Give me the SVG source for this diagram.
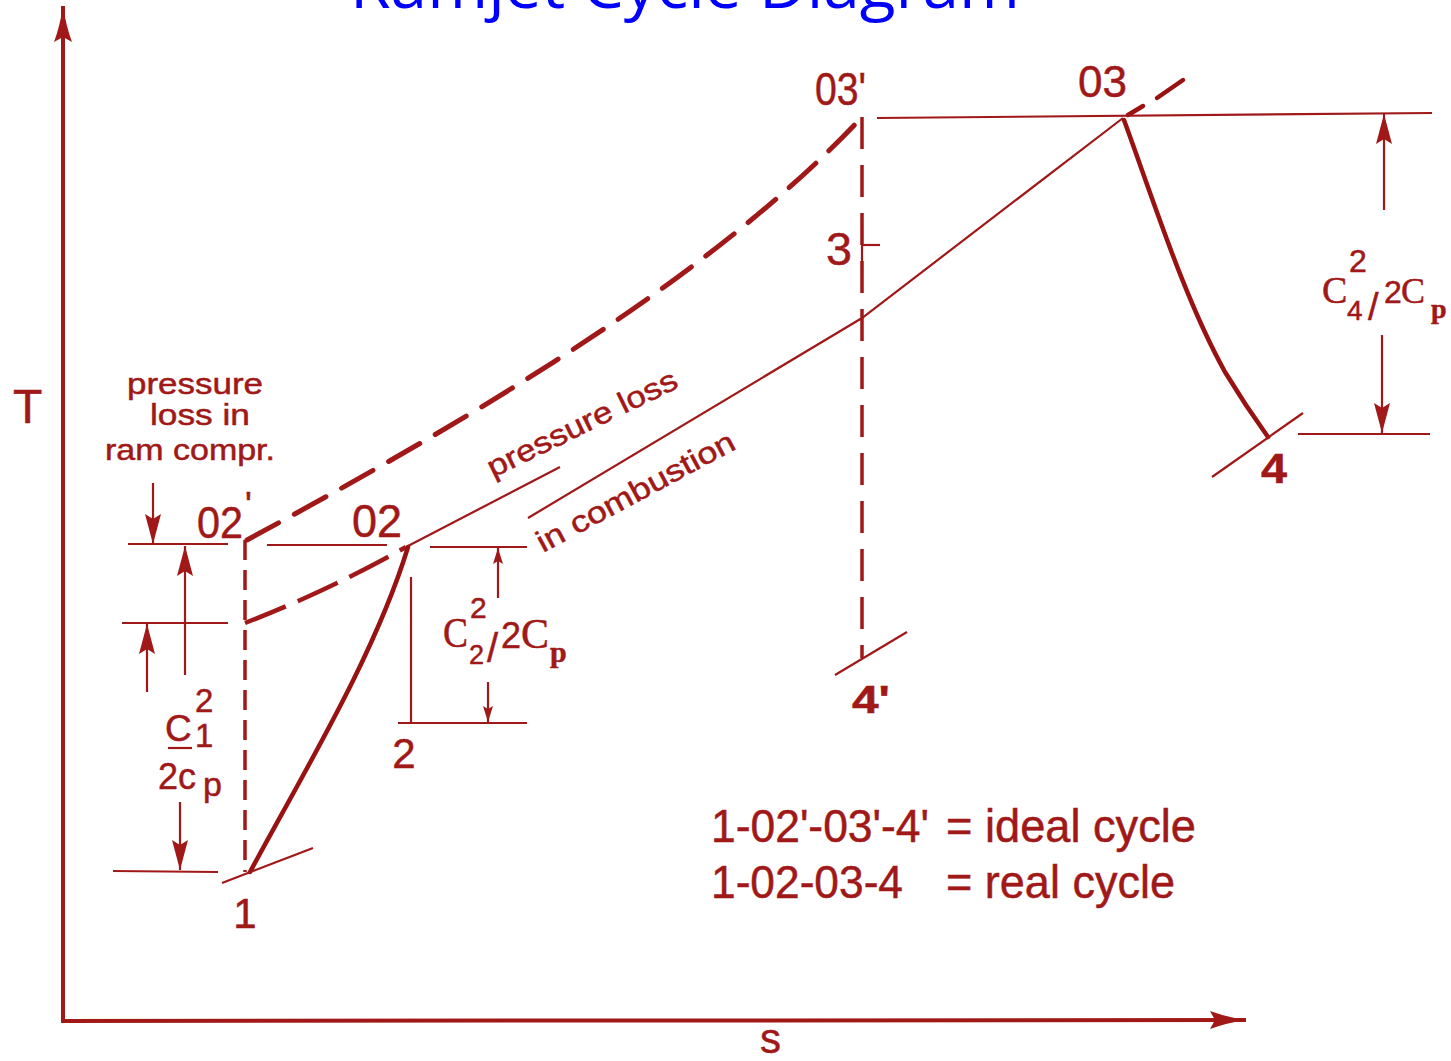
<svg xmlns="http://www.w3.org/2000/svg" width="1451" height="1061" viewBox="0 0 1451 1061">
<defs>
<style>
.ln{stroke:#a01818;fill:none;stroke-width:2.2}
.ax{stroke:#a01818;fill:none;stroke-width:4}
.thick{stroke:#981212;fill:none;stroke-width:4.5;stroke-linecap:round}
.dash{stroke:#a01818;fill:none;stroke-width:5;stroke-dasharray:36 18;stroke-linecap:round}
.dash2{stroke:#a01818;fill:none;stroke-width:4.5;stroke-dasharray:44 13}
.vd{stroke:#a01818;fill:none;stroke-width:3.5;stroke-dasharray:20 10}
.vd2{stroke:#a01818;fill:none;stroke-width:3.5;stroke-dasharray:32 16}
.t{font-family:"Liberation Sans",Arial,sans-serif;fill:#a01818;stroke:#a01818;stroke-width:0.5}
.b{font-weight:bold}
.s{font-family:"Liberation Serif","Times New Roman",serif;fill:#a01818;stroke:#a01818;stroke-width:0.5}
.title{font-family:"Open Sans","Noto Sans",sans-serif;fill:#0000ff}
</style>
<marker id="ah" viewBox="0 0 36 18" refX="36" refY="9" markerWidth="36" markerHeight="18" orient="auto" markerUnits="userSpaceOnUse"><path d="M0,0 Q16,6 36,9 Q16,12 0,18 L5,9 z" fill="#a01818"/></marker>
<marker id="am" viewBox="0 0 30 16" refX="30" refY="8" markerWidth="30" markerHeight="16" orient="auto" markerUnits="userSpaceOnUse"><path d="M0,0 L30,8 L0,16 L5,8 z" fill="#a01818"/></marker>
<marker id="as" viewBox="0 0 16 10" refX="16" refY="5" markerWidth="16" markerHeight="10" orient="auto" markerUnits="userSpaceOnUse"><path d="M0,0 L16,5 L0,10 L3,5 z" fill="#a01818"/></marker>
</defs>
<rect width="1451" height="1061" fill="#ffffff"/>
<text class="title" x="350" y="8" font-size="64" textLength="670" lengthAdjust="spacingAndGlyphs">Ramjet Cycle Diagram</text>

<g id="axes">
<line class="ax" x1="63" y1="1023" x2="63" y2="6" marker-end="url(#ah)"/>
<line class="ax" x1="61" y1="1021" x2="1246" y2="1020" marker-end="url(#ah)"/>
<text class="t" x="13" y="423" font-size="48">T</text>
<text class="t" x="760" y="1053" font-size="42">s</text>
</g>

<g id="connectors">
<line class="vd" x1="245" y1="540" x2="245" y2="872"/>
<line class="vd2" x1="862" y1="117" x2="862" y2="658"/>
<path class="dash" d="M247,540 C450,430 705,285 862,117"/>
<path class="dash2" d="M245,623 Q330,590 406,547"/>
<line class="thick" x1="1128" y1="115" x2="1143" y2="106"/>
<line class="thick" x1="1157" y1="98" x2="1183" y2="80"/>
<path class="thick" d="M250,872 C305,770 375,655 408,547"/>
<path class="ln" stroke-width="2.5" d="M408,546 L560,467"/>
<path class="ln" stroke-width="2.5" d="M528,518 L862,318 L1123,118"/>
<path class="thick" d="M1124,120 C1155,205 1185,300 1225,372 Q1245,405 1268,437"/>
</g>

<g id="guides">
<line class="ln" x1="113" y1="871" x2="218" y2="872"/>
<line class="ln" x1="128" y1="544" x2="228" y2="544"/>
<line class="ln" x1="267" y1="545" x2="387" y2="545"/>
<line class="ln" x1="430" y1="547" x2="527" y2="547"/>
<line class="ln" x1="122" y1="623" x2="228" y2="623"/>
<line class="ln" x1="398" y1="723" x2="527" y2="723"/>
<line class="ln" x1="411" y1="577" x2="411" y2="723"/>
<line class="ln" x1="877" y1="118" x2="1432" y2="113"/>
<line class="ln" x1="1298" y1="434" x2="1430" y2="434"/>
</g>

<g id="dimensions">
<line class="ln" x1="153" y1="483" x2="153" y2="544" marker-end="url(#am)"/>
<line class="ln" x1="185" y1="675" x2="185" y2="546" marker-end="url(#am)"/>
<line class="ln" x1="180" y1="802" x2="180" y2="870" marker-end="url(#am)"/>
<line class="ln" x1="147" y1="692" x2="147" y2="624" marker-end="url(#am)"/>
<line class="ln" x1="498" y1="598" x2="498" y2="548" marker-end="url(#as)"/>
<line class="ln" x1="488" y1="682" x2="488" y2="722" marker-end="url(#as)"/>
<line class="ln" x1="1384" y1="210" x2="1384" y2="114" marker-end="url(#am)"/>
<line class="ln" x1="1382" y1="335" x2="1382" y2="433" marker-end="url(#am)"/>
</g>

<g id="node-1">
<line class="ln" x1="222" y1="883" x2="313" y2="848"/>
<text class="t" x="245" y="928" font-size="42" text-anchor="middle">1</text>
</g>
<g id="node-02p">
<text class="t" x="197" y="538" font-size="44" textLength="46" lengthAdjust="spacingAndGlyphs">02</text>
<text class="t" x="245" y="518" font-size="36">'</text>
</g>
<g id="node-02">
<text class="t" x="352" y="537" font-size="46" textLength="50" lengthAdjust="spacingAndGlyphs">02</text>
</g>
<g id="node-2">
<text class="t" x="404" y="768" font-size="42" text-anchor="middle">2</text>
</g>
<g id="node-03p">
<text class="t" x="815" y="105" font-size="46" textLength="51" lengthAdjust="spacingAndGlyphs">03'</text>
</g>
<g id="node-03">
<text class="t" x="1078" y="97" font-size="45" textLength="49" lengthAdjust="spacingAndGlyphs">03</text>
</g>
<g id="node-3">
<line class="ln" stroke-width="3" x1="862" y1="224" x2="862" y2="266"/>
<line class="ln" x1="862" y1="245" x2="880" y2="245"/>
<text class="t" x="826" y="265" font-size="47" textLength="26" lengthAdjust="spacingAndGlyphs">3</text>
</g>
<g id="node-4p">
<line class="ln" x1="835" y1="675" x2="907" y2="632"/>
<text class="t b" x="852" y="713" font-size="39" textLength="38" lengthAdjust="spacingAndGlyphs">4'</text>
</g>
<g id="node-4">
<line class="ln" x1="1212" y1="477" x2="1303" y2="413"/>
<text class="t b" x="1261" y="483" font-size="42" textLength="26" lengthAdjust="spacingAndGlyphs">4</text>
</g>

<g id="labels">
<text class="t" x="127" y="394" font-size="30" textLength="136" lengthAdjust="spacingAndGlyphs">pressure</text>
<text class="t" x="150" y="425" font-size="30" textLength="100" lengthAdjust="spacingAndGlyphs">loss in</text>
<text class="t" x="105" y="460" font-size="30" textLength="170" lengthAdjust="spacingAndGlyphs">ram compr.</text>
<text class="t" transform="translate(493,478) rotate(-26)" font-size="30" textLength="208" lengthAdjust="spacingAndGlyphs">pressure loss</text>
<text class="t" transform="translate(543,553) rotate(-28.3)" font-size="30" textLength="221" lengthAdjust="spacingAndGlyphs">in combustion</text>

<text class="t" x="165" y="741" font-size="37">C</text>
<text class="t" x="195" y="712" font-size="33">2</text>
<text class="t" x="195" y="747" font-size="33">1</text>
<line class="ln" stroke-width="3" x1="168" y1="748" x2="192" y2="748"/>
<text class="t" x="158" y="789" font-size="36">2c</text>
<text class="t" x="203" y="796" font-size="34">p</text>

<text class="s" x="443" y="647" font-size="42" textLength="25" lengthAdjust="spacingAndGlyphs">C</text>
<text class="t" x="470" y="618" font-size="30">2</text>
<text class="t" x="469" y="664" font-size="27">2</text>
<text class="t" x="487" y="662" font-size="40">/</text>
<text class="t" x="501" y="648" font-size="36">2</text>
<text class="s" x="521" y="648" font-size="42" textLength="28" lengthAdjust="spacingAndGlyphs">C</text>
<text class="s b" x="550" y="662" font-size="30">p</text>

<text class="s" x="1322" y="303" font-size="38">C</text>
<text class="t" x="1349" y="272" font-size="32">2</text>
<text class="t" x="1347" y="320" font-size="28">4</text>
<text class="t" x="1368" y="320" font-size="38">/</text>
<text class="t" x="1384" y="303" font-size="32">2</text>
<text class="s" x="1401" y="303" font-size="36">C</text>
<text class="s b" x="1431" y="318" font-size="28">p</text>

<text class="t" x="711" y="842" font-size="46" textLength="218" lengthAdjust="spacingAndGlyphs">1-02'-03'-4'</text>
<text class="t" x="946" y="842" font-size="46" textLength="250" lengthAdjust="spacingAndGlyphs">= ideal cycle</text>
<text class="t" x="711" y="898" font-size="46" textLength="192" lengthAdjust="spacingAndGlyphs">1-02-03-4</text>
<text class="t" x="946" y="898" font-size="46" textLength="229" lengthAdjust="spacingAndGlyphs">= real cycle</text>
</g>
</svg>
